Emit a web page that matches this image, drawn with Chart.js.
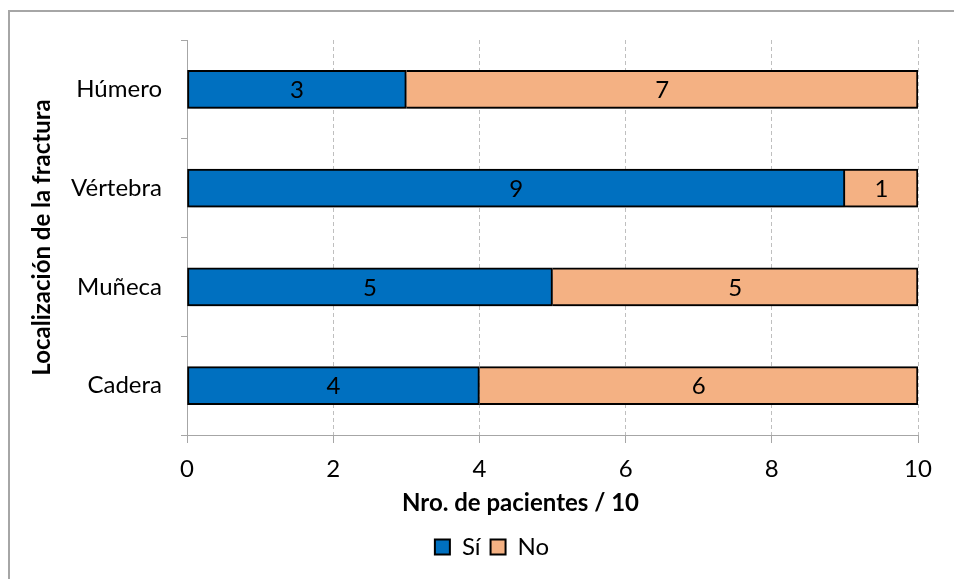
<!DOCTYPE html>
<html>
<head>
<meta charset="utf-8">
<script src="https://cdn.jsdelivr.net/npm/chart.js@4/dist/chart.umd.min.js"></script>
<style>
  html, body { margin: 0; padding: 0; background: #fff; overflow: hidden; }
  #wrap { position: relative; width: 954px; height: 579px; }
  #frame {
    position: absolute; left: 8px; top: 10px; width: 2000px; height: 2000px;
    border-left: 2px solid #a6a6a6; border-top: 2px solid #a6a6a6;
    box-sizing: border-box; pointer-events: none;
  }
  canvas { position: absolute; left: 0; top: 0; }
</style>
</head>
<body>
<div id="wrap">
  <div id="frame"></div>
  <canvas id="c" width="954" height="579"></canvas>
</div>
<script>
// Fracture sites and patient counts (out of 10)
const categories = ['Húmero', 'Vértebra', 'Muñeca', 'Cadera'];
const siValues = [3, 9, 5, 4];
const noValues = [7, 1, 5, 6];
const seriesNames = ['Sí', 'No'];
const xMin = 0;
const xMax = 10;
const xStep = 2;
const xTitle = 'Nro. de pacientes / 10';
const yTitle = 'Localización de la fractura';

const FONT = 'Lato, Carlito, "Open Sans", sans-serif';

// Soft drop shadow under the bars, value labels centred in each segment,
// and the horizontal axis title sitting under the tick labels.
const barDecor = {
  id: 'barDecor',
  afterLayout(chart) {
    // nudge the legend row a little to the right of the canvas centre
    const lg = chart.legend;
    if (lg) { lg.left += 23; lg.right += 23; }
  },
  beforeDatasetsDraw(chart) {
    const ctx = chart.ctx;
    ctx.save();
    ctx.shadowColor = 'rgba(0,0,0,0.35)';
    ctx.shadowBlur = 6;
    ctx.shadowOffsetX = 1;
    ctx.shadowOffsetY = 5;
  },
  afterDatasetsDraw(chart) {
    const ctx = chart.ctx;
    ctx.restore();
    ctx.save();
    ctx.font = '24px ' + FONT;
    ctx.fillStyle = '#000';
    ctx.textAlign = 'center';
    ctx.textBaseline = 'middle';
    chart.data.datasets.forEach((ds, di) => {
      const meta = chart.getDatasetMeta(di);
      meta.data.forEach((el, i) => {
        const v = ds.data[i];
        if (!v) return;
        ctx.fillText(String(v), (el.x + el.base) / 2, el.y + 1);
      });
    });
    ctx.restore();
  },
  afterDraw(chart) {
    const ctx = chart.ctx;
    const xs = chart.scales.x;
    ctx.save();
    ctx.font = 'bold 24px ' + FONT;
    ctx.fillStyle = '#000';
    ctx.textAlign = 'center';
    ctx.textBaseline = 'middle';
    ctx.fillText(xTitle, (xs.left + xs.right) / 2 - 32, xs.top + 68);
    ctx.restore();
  }
};

new Chart(document.getElementById('c'), {
  type: 'bar',
  data: {
    labels: categories,
    datasets: [
      {
        label: seriesNames[0],
        data: siValues,
        backgroundColor: '#0070c0',
        borderColor: '#000000',
        borderWidth: 2,
        borderSkipped: false,
        barThickness: 38
      },
      {
        label: seriesNames[1],
        data: noValues,
        backgroundColor: '#f4b183',
        borderColor: '#000000',
        borderWidth: 2,
        borderSkipped: 'left',
        barThickness: 38
      }
    ]
  },
  options: {
    indexAxis: 'y',
    responsive: false,
    animation: false,
    events: [],
    layout: { padding: { left: 20, right: 36, top: 40, bottom: 10 } },
    scales: {
      x: {
        stacked: true,
        min: xMin,
        max: xMax,
        ticks: {
          stepSize: xStep,
          color: '#000',
          font: { family: FONT, size: 24 },
          padding: 12,
          maxRotation: 0
        },
        grid: {
          color: '#bfbfbf',
          lineWidth: 1,
          drawTicks: true,
          tickLength: 8,
          tickColor: '#a6a6a6',
          tickBorderDash: []
        },
        border: { display: true, color: '#a6a6a6', width: 1, dash: [4, 3] },
        title: { display: false },
        afterFit(scale) { scale.height = 90; }
      },
      y: {
        stacked: true,
        ticks: {
          color: '#000',
          font: { family: FONT, size: 24 },
          padding: 19
        },
        grid: {
          offset: true,
          drawOnChartArea: false,
          drawTicks: true,
          tickLength: 6,
          color: '#a6a6a6',
          tickColor: '#a6a6a6'
        },
        border: { display: true, color: '#a6a6a6', width: 1 },
        title: {
          display: true,
          text: yTitle,
          color: '#000',
          font: { family: FONT, size: 24, weight: 'bold' },
          padding: { top: 7.6, bottom: 7.6 }
        },
        afterFit(scale) { scale.width = 167; }
      }
    },
    plugins: {
      legend: {
        position: 'bottom',
        labels: {
          color: '#000',
          font: { family: FONT, size: 24 },
          boxWidth: 15,
          boxHeight: 15,
          padding: 10
        }
      },
      tooltip: { enabled: false },
      title: { display: false }
    }
  },
  plugins: [barDecor]
});
</script>
</body>
</html>
